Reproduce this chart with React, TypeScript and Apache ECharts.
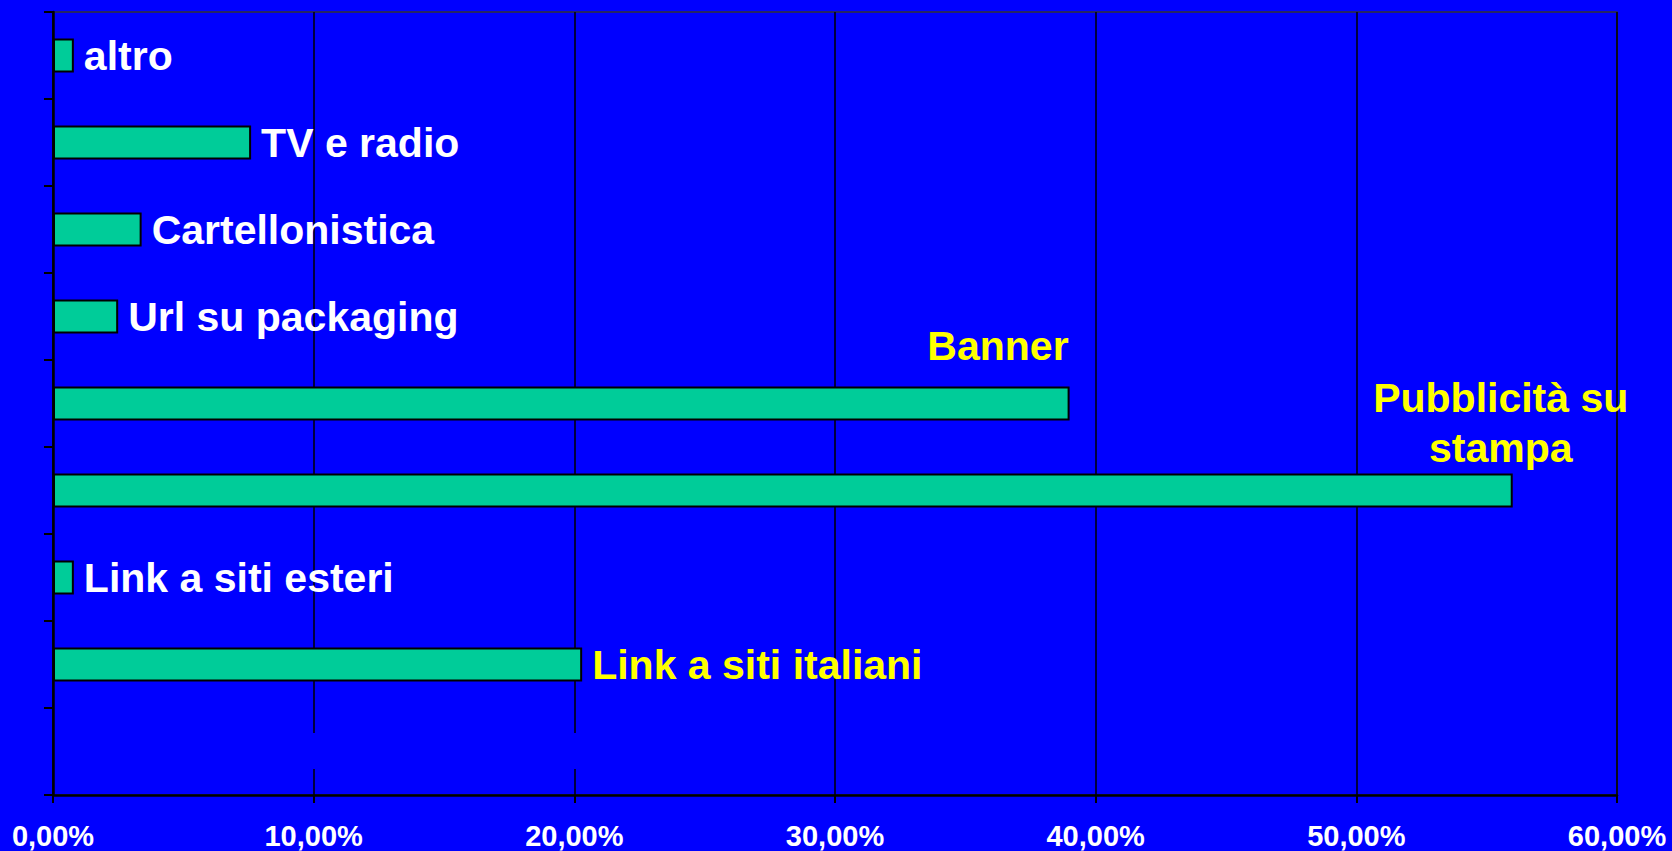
import React, { useEffect, useRef } from "react";
import * as echarts from "echarts";

// Categories from bottom to top (the bottom slot is empty in the original)
const categories = [
  "",
  "Link a siti italiani",
  "Link a siti esteri",
  "Pubblicità su stampa",
  "Banner",
  "Url su packaging",
  "Cartellonistica",
  "TV e radio",
  "altro",
];
const values: (number | string)[] = ["-", 20.3, 0.8, 56.0, 39.0, 2.5, 3.4, 7.6, 0.8];
const labelTexts = [
  "",
  "Link a siti italiani",
  "Link a siti esteri",
  "Pubblicità su\nstampa",
  "Banner",
  "Url su packaging",
  "Cartellonistica",
  "TV e radio",
  "altro",
];
const yellowLabels = ["Link a siti italiani", "Pubblicità su stampa", "Banner"];
const xTicks = [0, 10, 20, 30, 40, 50, 60];

const FONT = "'Liberation Sans', Arial, Helvetica, sans-serif";

export default function App() {
  const ref = useRef<HTMLDivElement>(null);
  useEffect(() => {
    document.body.style.margin = "0";
    document.body.style.background = "#0000ff";
    const chart = echarts.init(ref.current!, null, { renderer: "svg" });

    const data = values.map((v, i) => {
      const name = categories[i];
      const item: any = { value: v };
      if (yellowLabels.includes(name)) {
        item.label = { color: "#ffff00" };
      }
      if (name === "Banner") {
        item.label = {
          color: "#ffff00",
          position: ["100%", -41],
          align: "right",
          verticalAlign: "middle",
          offset: [-1, 0],
        };
      }
      if (name === "Pubblicità su stampa") {
        item.label = {
          color: "#ffff00",
          position: ["100%", -51],
          align: "center",
          verticalAlign: "middle",
          offset: [-12, 0],
          lineHeight: 50,
        };
      }
      return item;
    });

    chart.setOption({
      animation: false,
      backgroundColor: "#0000ff",
      grid: {
        left: 53,
        right: 55,
        top: 12,
        bottom: 56,
        show: true,
        borderColor: "#333333",
        borderWidth: 1.5,
        backgroundColor: "transparent",
      },
      xAxis: {
        type: "value",
        min: xTicks[0],
        max: xTicks[xTicks.length - 1],
        interval: 10,
        axisLine: { show: true, lineStyle: { color: "#000", width: 2.5 } },
        axisTick: { show: true, inside: false, length: 8, lineStyle: { color: "#000", width: 2 } },
        splitLine: { show: true, lineStyle: { color: "#000", width: 1.5 } },
        axisLabel: {
          color: "#ffffff",
          fontFamily: FONT,
          fontWeight: "bold",
          fontSize: 29,
          margin: 26,
          formatter: (v: number) => `${v},00%`,
        },
      },
      yAxis: {
        type: "category",
        data: categories,
        axisLine: { show: true, lineStyle: { color: "#000", width: 2.5 } },
        axisTick: { show: true, length: 9, alignWithLabel: false, lineStyle: { color: "#000", width: 2 } },
        axisLabel: { show: false },
        splitLine: { show: false },
      },
      series: [
        {
          type: "bar",
          data,
          barWidth: 34,
          itemStyle: { color: "#00cc99", borderColor: "#000", borderWidth: 2 },
          label: {
            show: true,
            position: "right",
            distance: 10,
            color: "#ffffff",
            fontFamily: FONT,
            fontWeight: "bold",
            fontSize: 41,
            formatter: (p: any) => labelTexts[p.dataIndex],
          },
        },
      ],
      graphic: [
        {
          type: "rect",
          z: 100,
          shape: { x: 120, y: 733, width: 640, height: 36 },
          style: { fill: "#0000ff" },
        },
      ],
    });
    return () => chart.dispose();
  }, []);
  return (
    <div
      ref={ref}
      style={{ width: 1672, height: 851, position: "fixed", left: 0, top: 0 }}
    />
  );
}
